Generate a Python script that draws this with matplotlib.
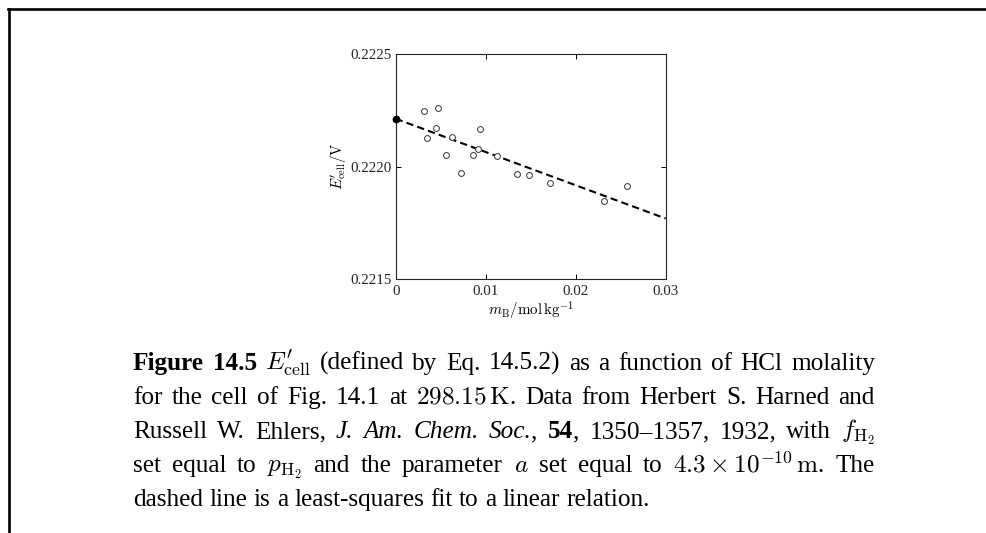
import numpy as np
import matplotlib
matplotlib.use("Agg")
import matplotlib.pyplot as plt
from matplotlib.lines import Line2D

# HCl molality (mol/kg) and the corresponding E'_cell values (V)
molality = [0.00318, 0.00474, 0.00448, 0.00351, 0.00622, 0.00562, 0.00726, 0.00940,
            0.00914, 0.00862, 0.01122, 0.01351, 0.01477, 0.01714, 0.02314, 0.02574]
e_cell = [0.222247, 0.222261, 0.222171, 0.222125, 0.222133, 0.222051, 0.221973, 0.222165,
          0.222078, 0.222050, 0.222048, 0.221968, 0.221961, 0.221927, 0.221845, 0.221915]

x_ticks = [0.0, 0.01, 0.02, 0.03]
x_tick_labels = ["0", "0.01", "0.02", "0.03"]
y_ticks = [0.2215, 0.2220, 0.2225]
y_tick_labels = ["0.2215", "0.2220", "0.2225"]

# Caption, one list of words per line; "b:" bold, "i:" italic, "|" joins pieces of a word
caption_lines = [
    ["b:Figure", "b:14.5", r"$E_{\mathrm{cell}}^{\prime}$", "(defined", "by", "Eq.",
     "14.5.2)", "as", "a", "function", "of", "HCl", "molality"],
    ["for", "the", "cell", "of", "Fig.", "14.1", "at", r"$298.15\,\mathrm{K}$.", "Data",
     "from", "Herbert", "S.", "Harned", "and"],
    ["Russell", "W.", "Ehlers,", "i:J.", "i:Am.", "i:Chem.", "i:Soc.|,", "b:54|,",
     "1350\u20131357,", "1932,", "with", r"$f_{\mathrm{H_2}}$"],
    ["set", "equal", "to", r"$p_{\mathrm{H_2}}$", "and", "the", "parameter", r"$a$",
     "set", "equal", "to", r"$4.3\times10^{-10}\,\mathrm{m}$.", "The"],
    ["dashed", "line", "is", "a", "least-squares", "fit", "to", "a", "linear", "relation."],
]

W, H = 986, 533
plt.rcParams["mathtext.fontset"] = "cm"
plt.rcParams["font.family"] = ["Liberation Serif", "DejaVu Serif"]

fig = plt.figure(figsize=(W / 100, H / 100), dpi=100)
fig.patch.set_facecolor("white")

# Page frame: top rule and left rule
fig.add_artist(Line2D([8 / W, 1.0], [1 - 9 / H, 1 - 9 / H], transform=fig.transFigure,
                      color="black", lw=1.9, solid_capstyle="projecting"))
fig.add_artist(Line2D([9 / W, 9 / W], [0.0, 1 - 9 / H], transform=fig.transFigure,
                      color="black", lw=1.9, solid_capstyle="projecting"))

left, right, top, bottom = 395.7, 665.7, 54.0, 279.0
ax = fig.add_axes([left / W, 1 - bottom / H, (right - left) / W, (bottom - top) / H])

# Least-squares linear fit
slope, intercept = np.polyfit(molality, e_cell, 1)
xfit = np.array([0.0, 0.03])
ax.plot(xfit, intercept + slope * xfit, color="black", lw=1.5, ls=(0, (3.5, 2.0)),
        zorder=2)
ax.plot(molality, e_cell, ls="none", marker="o", ms=4.2, mfc="white", mec="#333333",
        mew=0.7, zorder=3)
ax.plot([0.0], [intercept], ls="none", marker="o", ms=4.6, mfc="black", mec="black",
        zorder=4, clip_on=False)

ax.set_xlim(0, 0.03)
ax.set_ylim(0.2215, 0.2225)
ax.set_xticks(x_ticks)
ax.set_xticklabels(x_tick_labels)
ax.set_yticks(y_ticks)
ax.set_yticklabels(y_tick_labels)
ax.tick_params(direction="in", length=3.6, width=0.7, top=True, right=True,
               labelsize=10.8, colors="black")
ax.tick_params(axis="x", pad=4)
ax.tick_params(axis="y", pad=3)
for tl in ax.get_xticklabels() + ax.get_yticklabels():
    tl.set_color("#222222")
for s in ax.spines.values():
    s.set_linewidth(0.8)
    s.set_color("#222222")

ax.set_xlabel(r"$m_{\mathrm{B}}/\mathrm{mol\,kg}^{-1}$", fontsize=10.8, labelpad=2)
ax.set_ylabel(r"$E_{\mathrm{cell}}^{\prime}/\mathrm{V}$", fontsize=10.8, labelpad=1)

# Justified caption
fig.canvas.draw()
renderer = fig.canvas.get_renderer()
cap_left, cap_right = 133.0, 875.0
baselines = [370, 404, 438, 472, 506]
cap_size = 18.2


def make_piece(text):
    weight, style = "normal", "normal"
    if text.startswith("b:"):
        weight, text = "bold", text[2:]
    elif text.startswith("i:"):
        style, text = "italic", text[2:]
    return fig.text(0, 0, text, fontsize=cap_size, fontweight=weight, fontstyle=style,
                    ha="left", va="baseline", transform=None)


probe = fig.text(0, 0, "a a", fontsize=cap_size, transform=None)
probe2 = fig.text(0, 0, "aa", fontsize=cap_size, transform=None)
space_w = (probe.get_window_extent(renderer).width
           - probe2.get_window_extent(renderer).width)
probe.remove()
probe2.remove()

for i, (words, ybase) in enumerate(zip(caption_lines, baselines)):
    built = []
    for w in words:
        pieces = [make_piece(p) for p in w.split("|")]
        widths = [p.get_window_extent(renderer).width for p in pieces]
        built.append((pieces, widths))
    total = sum(sum(ws) for _, ws in built)
    last = i == len(caption_lines) - 1
    gap = space_w if last else (cap_right - cap_left - total) / (len(built) - 1)
    x = cap_left
    y = H - ybase
    for pieces, widths in built:
        for p, wdt in zip(pieces, widths):
            p.set_position((x, y))
            x += wdt
        x += gap

fig.savefig("out.png", dpi=100, facecolor="white")
